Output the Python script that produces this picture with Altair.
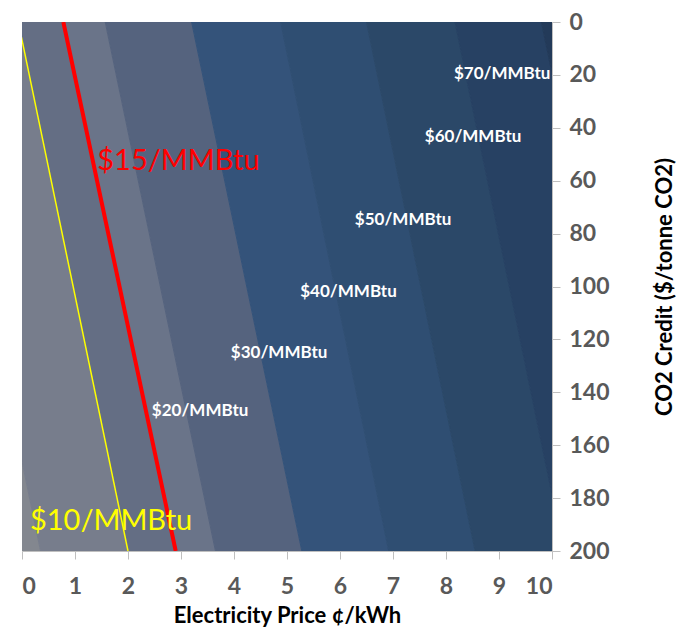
import altair as alt
import pandas as pd

# Contour band boundaries ($/MMBtu levels): electricity price (c/kWh) at CO2 credit 0 and 200
boundary_levels = ["$0", "$10", "$15", "$20", "$30", "$40", "$50", "$60", "$70"]
boundary_e_at_0 = [-1.72, -0.07, 0.78, 1.57, 3.20, 4.88, 6.50, 8.17, 9.80]
boundary_e_at_200 = [0.35, 2.00, 2.90, 3.65, 5.28, 6.92, 8.55, 10.22, 11.87]

band_names = ["<0", "0-10", "10-15", "15-20", "20-30", "30-40", "40-50", "50-60", "60-70", "70-80"]
band_colors = ["#83878f", "#777d8c", "#646e84", "#6a7489", "#55637e",
               "#34537a", "#2f4e72", "#2b4868", "#274163", "#233a59"]

co2_ends = [0, 200]

# Highlighted contour lines
yellow_e = [-0.07, 2.00]   # $10/MMBtu
red_e = [0.78, 2.90]       # $15/MMBtu

# White contour labels
label_text = ["$70/MMBtu", "$60/MMBtu", "$50/MMBtu", "$40/MMBtu", "$30/MMBtu", "$20/MMBtu"]
label_e = [8.15, 7.60, 6.28, 5.25, 3.94, 2.45]
label_co2 = [19.6, 43.3, 75.0, 102.0, 125.0, 147.0]

# Big coloured labels
big_text = ["$15/MMBtu", "$10/MMBtu"]
big_e = [1.42, 0.15]
big_co2 = [52.7, 188.5]
big_colors = ["#ff0000", "#ffff00"]

FONT = "Lato"

rows = []
for i, name in enumerate(band_names):
    for j, c in enumerate(co2_ends):
        ends = [boundary_e_at_0, boundary_e_at_200][j]
        left = ends[i - 1] if i > 0 else -5.0
        right = ends[i] if i < len(ends) else 15.0
        rows.append({"band": name, "co2": c, "left": left, "right": right, "order": i})
bands_df = pd.DataFrame(rows)

xscale = alt.Scale(domain=[0, 10], nice=False, zero=False)
yscale = alt.Scale(domain=[0, 200], nice=False, reverse=True)

xaxis = alt.Axis(values=list(range(0, 11)), title="Electricity Price ¢/kWh", grid=False,
                 tickSize=8, tickColor="#bfbfbf", domainColor="#bfbfbf",
                 labelFont=FONT, labelFontSize=23, labelFontWeight="bold", labelColor="#595959",
                 labelPadding=16, titleFont=FONT, titleFontSize=22, titleFontWeight="bold",
                 titleColor="#000000", titlePadding=7, zindex=1)
yaxis = alt.Axis(values=list(range(0, 201, 20)), orient="right", title="CO2 Credit ($/tonne CO2)",
                 grid=False, tickSize=8, tickColor="#bfbfbf", domainColor="#bfbfbf",
                 labelFont=FONT, labelFontSize=23, labelFontWeight="bold", labelColor="#595959",
                 labelPadding=9, titleFont=FONT, titleFontSize=22, titleFontWeight="bold",
                 titleColor="#000000", titleAngle=270, titlePadding=67, zindex=1)

band_scale = alt.Scale(domain=band_names, range=band_colors)
bands = alt.Chart(bands_df).mark_area(orient="horizontal", clip=True, strokeWidth=1).encode(
    y=alt.Y("co2:Q", scale=yscale, axis=yaxis),
    x=alt.X("left:Q", scale=xscale, axis=xaxis),
    x2="right:Q",
    color=alt.Color("band:N", scale=band_scale, legend=None),
    stroke=alt.Stroke("band:N", scale=band_scale, legend=None),
)

yellow_df = pd.DataFrame({"e": yellow_e, "co2": co2_ends})
red_df = pd.DataFrame({"e": red_e, "co2": co2_ends})

yellow = alt.Chart(yellow_df).mark_line(clip=True, color="#ffff00", strokeWidth=1.5).encode(
    x=alt.X("e:Q", scale=xscale), y=alt.Y("co2:Q", scale=yscale))
red = alt.Chart(red_df).mark_line(clip=True, color="#ff0000", strokeWidth=4).encode(
    x=alt.X("e:Q", scale=xscale), y=alt.Y("co2:Q", scale=yscale))

labels_df = pd.DataFrame({"t": label_text, "e": label_e, "co2": label_co2})
labels = alt.Chart(labels_df).mark_text(align="left", baseline="middle", font=FONT,
                                        fontSize=17, fontWeight="bold", color="#ffffff").encode(
    x=alt.X("e:Q", scale=xscale), y=alt.Y("co2:Q", scale=yscale), text="t:N")

big_df = pd.DataFrame({"t": big_text, "e": big_e, "co2": big_co2, "c": big_colors})
big = alt.Chart(big_df).mark_text(align="left", baseline="middle", font=FONT,
                                  fontSize=29).encode(
    x=alt.X("e:Q", scale=xscale), y=alt.Y("co2:Q", scale=yscale), text="t:N",
    color=alt.Color("c:N", scale=None))

chart = alt.layer(bands, yellow, red, labels, big).properties(
    width=530, height=529,
    autosize=alt.AutoSizeParams(type="none"),
    padding={"left": 14, "top": 14, "right": 124, "bottom": 76},
    background="#ffffff",
).configure_view(stroke="#d9d9d9")

chart.save("out.html", embed_options={"renderer": "svg", "actions": False})
